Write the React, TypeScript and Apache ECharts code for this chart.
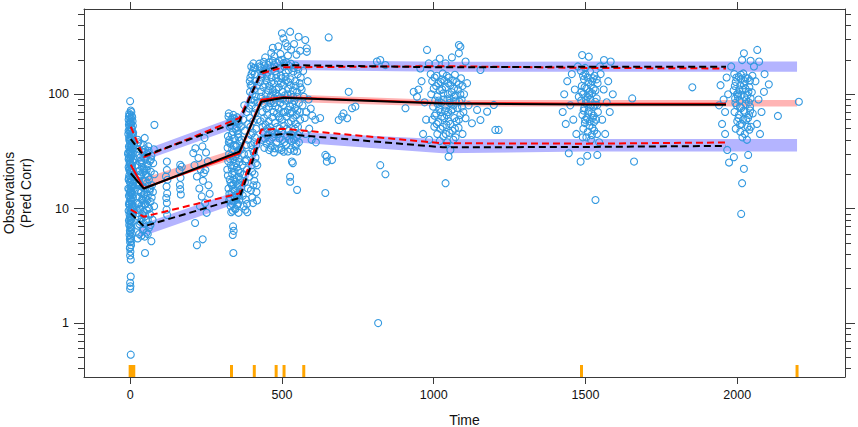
import React, { useEffect, useRef } from 'react';
import * as echarts from 'echarts';

// ---------- axes ----------
const X_MIN = -152;
const X_MAX = 2355;
const Y_MIN = 0.338;
const Y_MAX = 556;
const X_TICKS = [0, 500, 1000, 1500, 2000];
const Y_MAJOR = [1, 10, 100];
const Y_MINOR = [0.4, 0.5, 0.6, 0.7, 0.8, 0.9, 2, 3, 4, 5, 6, 7, 8, 9, 20, 30, 40, 50, 60, 70, 80, 90, 200, 300, 400, 500];

// ---------- percentile lines (bin mid-times) ----------
const LINE_T = [2, 45, 360, 432, 505, 1030, 1500, 1963];
const SIM_MEDIAN = [20.4, 15, 31.5, 86, 93, 83, 81.5, 81];
const OBS_MEDIAN = [24.2, 15.1, 30.5, 89.5, 94, 84, 82.5, 82.5];
const SIM_UPPER = [40.5, 28.9, 58, 157, 180, 172, 174, 174];
const OBS_UPPER = [52, 28.2, 62, 152, 172, 176, 170, 168];
const OBS_LOWER = [9.8, 8.5, 13.6, 49, 50, 37.3, 37, 37.9];
const SIM_LOWER = [9.1, 7.0, 12.4, 43, 45, 34.4, 34.6, 35.4];

// ---------- simulated prediction-interval bands ----------
const BAND_T = [30, 360, 432, 505, 1030, 1500, 1963, 2197];
const UPPER_LO = [25.5, 52, 140, 163, 157, 157, 157, 157.5];
const UPPER_HI = [31.5, 66, 172, 199, 192, 193, 193, 193];
const MED_LO = [15, 28, 80, 86, 78, 78, 78, 78];
const MED_HI = [18, 34, 95, 100, 89, 89, 89, 89];
const LOW_LO = [5.6, 11.3, 38, 38.6, 30.5, 31.6, 31.6, 31.6];
const LOW_HI = [7.2, 14.5, 48, 47.2, 40.5, 40.7, 40.7, 40.7];

// ---------- bin boundary rug ----------
const RUG_T = [0, 3, 6, 9, 12, 334, 409, 481, 507, 572, 1487, 2197];

// ---------- observations (time, pred-corrected value) ----------
const OBS_A = [
  [0, 87], [2, 72], [-3, 68], [5, 65], [1, 62], [-5, 60], [8, 58], [3, 55], [-2, 52], [6, 50], [0, 48], [10, 46], [-6, 45], [4, 43], [1, 41],
  [-1, 39], [7, 38], [12, 36], [-4, 35], [2, 34], [9, 33], [0, 31], [-7, 30], [5, 29], [3, 28], [11, 27], [-2, 26], [1, 25], [6, 24], [-5, 23],
  [8, 22], [0, 21], [13, 20], [-3, 19.5], [4, 19], [2, 18], [-1, 17], [10, 16.5], [7, 16], [-6, 15], [3, 14.5], [0, 14], [5, 13.5], [-4, 13],
  [9, 12.5], [1, 12], [-2, 11.5], [6, 11], [12, 10.5], [0, 10], [-5, 9.6], [3, 9.2], [8, 8.8], [-1, 8.4], [2, 8], [5, 7.6], [-3, 7.2], [0, 6.9],
  [4, 6.6], [1, 6.2], [-2, 5.9], [2, 5.5], [0, 5.1], [3, 4.8], [-1, 4.5], [1, 4.2], [0, 3.9], [2, 2.55], [0, 2.25], [1, 2.1], [0, 2.0], [2, 0.53],
  [4, 70], [-1, 66], [7, 63], [2, 57], [-4, 54], [1, 47], [9, 44], [-3, 42], [5, 40], [0, 37], [3, 32], [-6, 31], [8, 30.5], [1, 27.5], [-2, 24.5],
  [4, 22.5], [11, 21], [-4, 18.5], [6, 17.5], [2, 15.5], [-1, 13.8], [8, 13.2], [4, 11.8], [-3, 10.8], [1, 9.4], [6, 9.9], [3, 8.6], [0, 7.8],
  [-1, 6.4], [3, 5.7], [-4, 64], [9, 53], [-2, 49], [5, 36], [-5, 27], [10, 25.5], [-3, 22], [7, 20.5], [12, 15], [-4, 11], [5, 10.2], [9, 9.1],
  [1, 58], [-2, 56], [4, 51], [-5, 48], [7, 46], [2, 44.5], [-3, 40], [6, 37], [0, 35], [10, 34], [-1, 32], [4, 30], [2, 29.5], [-4, 28],
  [8, 26], [0, 25], [5, 23.5], [-2, 22], [3, 21], [9, 19], [-5, 18], [1, 17], [6, 15.5], [-3, 14.8], [4, 14], [0, 13], [2, 12.3], [-1, 11],
  [7, 10.5], [3, 9.6], [-2, 8.9], [5, 8.2], [1, 7.4], [-4, 7.9], [2, 6.8], [6, 6], [-1, 5.4], [4, 5.2], [0, 4.6], [2, 3.6]
];
const OBS_B = [
  [25, 40], [48, 41.5], [35, 37], [60, 35], [28, 33], [42, 31], [55, 30], [70, 29], [33, 28], [50, 27], [65, 26], [38, 25], [24, 24], [58, 23.5],
  [45, 22.5], [30, 21.5], [68, 21], [52, 20], [36, 19.5], [26, 18.5], [62, 18], [44, 17.5], [56, 16.8], [32, 16.2], [72, 16], [40, 15.5],
  [50, 15], [27, 14.5], [64, 14.2], [35, 13.8], [46, 13.3], [58, 13], [30, 12.6], [53, 12.2], [41, 11.8], [67, 11.5], [25, 11.2], [48, 10.9],
  [37, 10.6], [60, 10.3], [32, 10], [55, 9.7], [44, 9.4], [28, 9.1], [66, 8.9], [50, 8.6], [38, 8.3], [58, 8], [34, 7.7], [46, 7.4], [26, 7.1],
  [62, 6.8], [42, 6.5], [54, 6.2], [30, 6], [48, 5.7], [25, 5.5], [70, 5.2], [49, 4.1], [80, 54], [78, 33], [76, 25], [80, 20], [75, 14],
  [79, 10.5], [74, 8], [36, 26.5], [57, 24.5], [43, 20.8], [29, 17], [63, 14.8], [39, 12], [51, 11], [34, 9.8],
  [27, 38], [44, 36], [61, 32], [31, 30], [53, 28.5], [69, 27], [39, 23], [47, 21.5], [34, 20], [59, 19], [24, 16], [51, 17.5], [66, 15],
  [37, 14], [43, 12.8], [57, 11.9], [29, 11], [63, 10], [40, 9], [52, 7.9], [31, 7.3], [45, 6.6], [58, 6], [37, 5.8], [67, 7.2], [27, 8.5],
  [71, 12.5], [55, 22], [33, 25.5], [49, 33]
];
const OBS_C = [
  [121, 25.8], [121, 21.8], [118, 19.1], [123, 17.9], [120, 15.6], [122, 13.6], [119, 12.4], [121, 11.2], [120, 9.8], [122, 8.8],
  [165, 24.2], [163, 21.8], [166, 18.6], [164, 16.1], [165, 14.8], [167, 13.3], [170, 23.3],
  [208, 30.6], [215, 33.7], [225, 27.7], [212, 24], [232, 22], [220, 19.1], [240, 17.5], [228, 15], [236, 12.8], [247, 11.2], [230, 10.5],
  [252, 9.2], [245, 41.4], [238, 35], [250, 31], [256, 26], [243, 20.5], [258, 16], [262, 13.5], [248, 21.8], [214, 7.5], [220, 4.8], [239, 5.4]
];
const OBS_D = [
  [325, 68], [340, 66], [352, 63], [333, 60], [345, 57], [358, 55], [328, 52], [348, 50], [338, 47], [355, 45], [322, 43], [343, 41], [360, 39],
  [330, 37], [350, 35], [336, 33], [356, 31.5], [326, 30], [346, 28.5], [340, 27], [360, 25.5], [332, 24], [352, 23], [320, 22], [344, 21],
  [336, 20], [358, 19], [328, 18], [348, 17.2], [340, 16.4], [354, 15.6], [324, 15], [345, 14.3], [334, 13.7], [359, 13.1], [329, 12.5],
  [350, 12], [341, 11.5], [355, 11], [331, 10.5], [347, 10], [338, 9.6], [357, 9.2], [339, 7.0], [341, 6.4], [338, 5.9], [340, 4.1],
  [337, 62], [353, 48], [327, 40], [347, 36], [333, 29], [357, 27.5], [323, 26], [343, 23.5], [351, 18.5], [335, 16], [361, 14], [345, 12.6],
  [326, 11.8], [352, 10.8], [362, 20.5], [362, 33], [321, 34], [330, 57],
  [324, 64], [344, 61], [356, 58], [331, 54], [351, 52], [335, 44], [357, 42], [325, 38], [341, 35.5], [353, 30], [329, 27], [349, 25],
  [335, 22.5], [357, 21.5], [322, 19.5], [343, 18], [331, 16.8], [355, 16.5], [339, 14.8], [350, 13.3], [327, 13.5], [360, 12], [336, 11],
  [346, 9.9], [333, 9.3]
];
const OBS_E = [
  [365, 52], [372, 60], [378, 48], [368, 40], [382, 36], [375, 30], [370, 24], [385, 22], [362, 18], [378, 17], [388, 15], [371, 13],
  [381, 12], [374, 10.5], [380, 9.8], [386, 9.3], [405, 11.2], [392, 75], [398, 90], [395, 105], [402, 120], [396, 140], [404, 160],
  [399, 175], [406, 186], [410, 150], [412, 130], [408, 110], [414, 95], [401, 80], [411, 68], [405, 58], [415, 50], [398, 44], [409, 38],
  [403, 33], [413, 28], [400, 24], [410, 20], [406, 16], [416, 14], [402, 12.5], [418, 11.8], [412, 170], [418, 120], [420, 85], [395, 62],
  [390, 30], [393, 19], [384, 70], [376, 80], [389, 55], [367, 33], [383, 27],
  [394, 130], [400, 150], [407, 170], [403, 100], [397, 120], [410, 88], [413, 75], [396, 52], [404, 46], [411, 42], [399, 36], [407, 31],
  [414, 25], [402, 21], [409, 17.5], [417, 16], [398, 14.5], [419, 24], [416, 36], [420, 60], [388, 40], [379, 26], [373, 20], [366, 15], [385, 11]
];
const OBS_F = [
  [425, 185], [440, 192], [455, 180], [470, 196], [485, 188], [500, 200], [515, 190], [530, 185], [545, 178], [430, 170], [448, 165],
  [462, 172], [478, 160], [494, 168], [508, 175], [522, 162], [538, 158], [552, 150], [435, 150], [450, 145], [466, 140], [482, 148],
  [498, 138], [512, 142], [528, 135], [544, 130], [558, 125], [428, 128], [444, 122], [458, 118], [474, 125], [490, 115], [505, 120],
  [520, 112], [536, 108], [550, 105], [432, 105], [447, 100], [463, 96], [479, 102], [495, 92], [510, 98], [526, 90], [541, 88], [556, 84],
  [426, 86], [442, 82], [457, 78], [473, 84], [489, 75], [504, 80], [519, 73], [534, 70], [548, 66], [436, 70], [452, 66], [468, 63],
  [484, 68], [500, 60], [515, 64], [530, 58], [546, 55], [560, 60], [430, 58], [446, 54], [461, 52], [477, 56], [492, 50], [507, 53],
  [523, 48], [538, 46], [553, 44], [438, 47], [454, 44], [470, 42], [486, 45], [502, 40], [517, 43], [532, 39], [548, 37], [434, 40],
  [450, 37], [466, 35.5], [482, 38], [498, 34], [514, 36], [528, 33], [545, 35], [442, 34], [458, 32.5], [474, 31], [490, 33], [506, 31.5],
  [540, 32], [445, 210], [475, 215], [495, 225], [520, 218], [465, 230], [500, 341], [527, 352], [505, 308], [555, 318], [577, 298],
  [582, 252], [582, 235], [488, 262], [540, 275], [560, 240], [470, 255], [512, 280], [530, 245], [548, 222], [518, 262], [565, 110],
  [572, 95], [568, 80], [580, 70], [575, 62], [588, 90], [562, 140], [570, 160], [585, 130], [595, 75], [600, 65], [610, 60], [590, 50],
  [578, 45], [598, 40], [612, 38], [626, 62], [437, 160], [453, 155], [469, 110], [487, 130], [503, 105], [521, 128], [537, 95], [551, 72],
  [459, 88], [476, 92], [493, 62], [511, 70], [527, 78], [543, 50], [449, 75], [465, 48], [481, 110], [497, 145], [513, 155], [529, 100],
  [427, 175], [442, 178], [458, 190], [474, 182], [490, 195], [506, 188], [522, 178], [538, 170], [554, 165], [433, 140], [449, 132],
  [465, 128], [481, 138], [497, 125], [513, 132], [529, 120], [545, 118], [561, 115], [439, 115], [455, 108], [471, 104], [487, 96],
  [503, 92], [519, 100], [535, 82], [551, 95], [431, 95], [447, 90], [463, 84], [479, 78], [495, 84], [511, 88], [527, 68], [543, 76],
  [559, 70], [441, 62], [457, 58], [473, 70], [489, 64], [505, 70], [521, 56], [537, 62], [553, 52], [436, 52], [452, 50], [468, 47],
  [484, 52], [500, 48], [516, 50], [532, 44], [548, 42], [444, 41], [460, 39], [476, 45], [492, 41], [508, 38], [524, 40], [540, 40],
  [556, 38], [462, 34]
];
const OBS_S = [
  [533, 25.8], [536, 25], [527, 19], [527, 17.2], [550, 14.6], [477, 33.7], [499, 32.6], [520, 31.6], [550, 31.6], [643, 13.7], [648, 28.5],
  [648, 25.8], [665, 26.6], [643, 29.5], [654, 314], [720, 105], [687, 59.6], [698, 63.8], [715, 61.7], [703, 68], [731, 75.6], [742, 78],
  [813, 193], [824, 199], [841, 180], [824, 24], [841, 20], [817, 1.0]
];
const OBS_G = [
  [990, 150], [1010, 145], [1030, 152], [1050, 140], [1070, 148], [1090, 138], [995, 130], [1015, 125], [1035, 132], [1055, 120], [1075, 128],
  [1095, 118], [1000, 112], [1020, 108], [1040, 115], [1060, 104], [1080, 110], [992, 100], [1012, 96], [1032, 102], [1052, 92], [1072, 98],
  [1092, 90], [1005, 88], [1025, 84], [1045, 90], [1065, 80], [1085, 86], [998, 78], [1018, 74], [1038, 80], [1058, 72], [1078, 76],
  [1098, 70], [1008, 68], [1028, 64], [1048, 70], [1068, 62], [1088, 66], [995, 60], [1015, 57], [1035, 62], [1055, 55], [1075, 58],
  [1002, 52], [1022, 50], [1042, 54], [1062, 48], [1082, 51], [1012, 45], [1032, 43], [1052, 46], [1072, 42], [1020, 39], [1045, 38],
  [1065, 40], [1083, 269], [1088, 260], [1083, 228], [978, 244], [984, 186], [1006, 186], [1039, 186], [956, 168], [1105, 193],
  [1154, 163], [934, 105], [907, 75.5], [945, 95], [1105, 61.7], [1126, 55.8], [1154, 59.6], [1176, 70.5], [1203, 48.8], [1055, 32.6],
  [1049, 28.5], [1039, 16.7], [960, 130], [970, 85], [975, 60], [965, 45], [1100, 100], [1110, 125], [1115, 80], [950, 110], [1060, 210],
  [1020, 205], [985, 40], [1095, 45], [1198, 80.7], [1143, 73], [1214, 48.8], [1027, 135], [1047, 100], [1067, 112], [1017, 88], [1037, 72],
  [1003, 140], [1023, 128], [1043, 145], [1063, 132], [1083, 122], [1008, 118], [1028, 110], [1048, 125], [1068, 95], [1088, 100],
  [1013, 82], [1033, 90], [1053, 84], [1073, 88], [1093, 78], [1003, 65], [1023, 70], [1043, 66], [1063, 74], [1083, 60], [1010, 55],
  [1030, 52], [1050, 58], [1070, 50], [1040, 45]
];
const OBS_H = [
  [1485, 160], [1500, 150], [1515, 158], [1530, 145], [1495, 135], [1510, 128], [1525, 138], [1540, 125], [1488, 118], [1503, 112],
  [1518, 120], [1533, 108], [1492, 100], [1507, 95], [1522, 102], [1537, 92], [1486, 88], [1501, 84], [1516, 90], [1531, 80], [1496, 76],
  [1511, 72], [1526, 78], [1541, 70], [1490, 66], [1505, 62], [1520, 68], [1535, 60], [1498, 56], [1513, 53], [1528, 57], [1493, 50],
  [1508, 47], [1523, 51], [1538, 45], [1503, 42], [1518, 40], [1489, 220], [1511, 213], [1561, 199], [1583, 193], [1654, 92],
  [1660, 25.8], [1533, 11.9], [1484, 25.8], [1506, 29], [1445, 30.5], [1539, 29.5], [1430, 100], [1440, 130], [1450, 80], [1460, 60],
  [1455, 150], [1465, 110], [1470, 45], [1475, 175], [1425, 70], [1435, 55], [1550, 150], [1560, 110], [1570, 85], [1555, 60], [1565, 45],
  [1575, 130], [1580, 70], [1545, 38], [1590, 100], [1548, 175], [1852, 115], [1478, 95], [1514, 105], [1527, 65], [1499, 170],
  [1492, 145], [1507, 140], [1522, 130], [1537, 135], [1497, 115], [1512, 98], [1527, 112], [1487, 105], [1502, 90], [1517, 80],
  [1532, 86], [1494, 72], [1509, 68], [1524, 62], [1539, 80], [1499, 60], [1514, 58], [1529, 48], [1491, 42], [1521, 44]
];
const OBS_I = [
  [1990, 150], [2005, 142], [2020, 152], [2035, 138], [2050, 145], [1995, 128], [2010, 120], [2025, 130], [2040, 115], [1988, 108],
  [2003, 102], [2018, 110], [2033, 98], [2048, 104], [1993, 92], [2008, 88], [2023, 95], [2038, 85], [1998, 80], [2013, 76], [2028, 82],
  [2043, 72], [1991, 70], [2006, 66], [2021, 72], [2036, 62], [2051, 68], [2000, 58], [2015, 55], [2030, 60], [2045, 52], [1995, 50],
  [2010, 47], [2025, 45], [2040, 49], [2017, 42], [2032, 40], [2022, 228], [2066, 244], [2016, 199], [2044, 196], [2072, 193], [2104, 122],
  [2134, 64.6], [2203, 86], [2088, 105], [1973, 25.3], [1989, 28.2], [2036, 29.5], [2022, 22.3], [2016, 16.7], [2013, 9.0], [1967, 32.6],
  [1945, 120], [1955, 90], [1960, 70], [1950, 55], [1965, 140], [1970, 100], [1940, 80], [2060, 130], [2070, 90], [2080, 70], [2065, 55],
  [2090, 150], [2075, 45], [1980, 175], [2055, 175], [1960, 45], [2012, 135], [2027, 112], [2002, 95], [2042, 78],
  [1997, 140], [2012, 148], [2027, 140], [2042, 132], [1992, 118], [2007, 110], [2022, 120], [2037, 105], [1999, 100], [2014, 98],
  [2029, 90], [2044, 92], [1994, 84], [2009, 78], [2024, 70], [2039, 66], [2004, 62], [2019, 60], [2034, 52], [2009, 54]
];

const FONT = "'Liberation Sans', Arial, Helvetica, sans-serif";
const AX = '#3a3a3a';
const TXT = '#111111';
const PURPLE = '#B4B4FF';
const PINK = '#FFB4B4';
const BLUE = '#3399E0';

function bandSeries(lo: number[], hi: number[], color: string) {
  return {
    type: 'custom',
    xAxisIndex: 0,
    yAxisIndex: 0,
    z: 1,
    silent: true,
    clip: true,
    data: BAND_T.map((t, i) => [t, lo[i], hi[i]]),
    encode: { x: 0, y: [1, 2] },
    renderItem: (params: any, api: any) => {
      if (params.dataIndex !== 0) return null;
      const pts: number[][] = [];
      for (let i = 0; i < BAND_T.length; i++) pts.push(api.coord([BAND_T[i], hi[i]]));
      for (let i = BAND_T.length - 1; i >= 0; i--) pts.push(api.coord([BAND_T[i], lo[i]]));
      return { type: 'polygon', shape: { points: pts }, style: { fill: color, stroke: null } };
    },
  };
}

function lineSeries(vals: number[], color: string, dashed: boolean, z: number) {
  return {
    type: 'line',
    xAxisIndex: 0,
    yAxisIndex: 0,
    z,
    silent: true,
    symbol: 'none',
    data: LINE_T.map((t, i) => [t, vals[i]]),
    lineStyle: { color, width: 2, type: dashed ? [7, 4] : 'solid', cap: 'butt' },
  };
}

export default function App() {
  const ref = useRef<HTMLDivElement>(null);
  useEffect(() => {
    document.body.style.margin = '0';
    if (!ref.current) return;
    const chart = echarts.init(ref.current, undefined, { renderer: 'svg' });
    const points = [...OBS_A, ...OBS_B, ...OBS_C, ...OBS_D, ...OBS_E, ...OBS_F, ...OBS_S, ...OBS_G, ...OBS_H, ...OBS_I];
    const xCommon = {
      type: 'value',
      min: X_MIN,
      max: X_MAX,
      splitLine: { show: false },
      axisLine: { show: true, onZero: false, lineStyle: { color: AX, width: 1 } },
      axisTick: { show: true, length: 7, customValues: X_TICKS, lineStyle: { color: AX, width: 1 } },
    };
    const yCommon = {
      type: 'log',
      logBase: 10,
      min: Y_MIN,
      max: Y_MAX,
      splitLine: { show: false },
      minorTick: { show: false },
    };
    const option: any = {
      animation: false,
      textStyle: { fontFamily: FONT },
      grid: { left: 84, right: 13, top: 9, bottom: 50, containLabel: false, outerBoundsMode: 'none' },
      xAxis: [
        {
          ...xCommon,
          position: 'bottom',
          name: 'Time',
          nameLocation: 'middle',
          nameGap: 36,
          nameTextStyle: { fontSize: 14, color: TXT, fontFamily: FONT },
          axisLabel: { customValues: X_TICKS, margin: 11, fontSize: 12.5, color: TXT, fontFamily: FONT, formatter: (v: number) => String(v) },
        },
        { ...xCommon, position: 'top', axisLabel: { show: false } },
      ],
      yAxis: [
        {
          ...yCommon,
          position: 'left',
          name: 'Observations\n(Pred Corr)',
          nameLocation: 'middle',
          nameRotate: 90,
          nameGap: 50,
          nameTextStyle: { fontSize: 14, lineHeight: 17, color: TXT, fontFamily: FONT, align: 'center' },
          axisLine: { show: true, onZero: false, lineStyle: { color: AX, width: 1 } },
          axisTick: { show: true, length: 10, customValues: Y_MAJOR, lineStyle: { color: AX, width: 1 } },
          axisLabel: { customValues: Y_MAJOR, margin: 15, fontSize: 12.5, color: TXT, fontFamily: FONT, formatter: (v: number) => String(v) },
        },
        {
          ...yCommon,
          position: 'left',
          axisLine: { show: false, onZero: false },
          axisTick: { show: true, length: 6, customValues: Y_MINOR, lineStyle: { color: AX, width: 1 } },
          axisLabel: { show: false },
        },
        {
          ...yCommon,
          position: 'right',
          axisLine: { show: true, onZero: false, lineStyle: { color: AX, width: 1 } },
          axisTick: { show: true, length: 10, customValues: Y_MAJOR, lineStyle: { color: AX, width: 1 } },
          axisLabel: { show: false },
        },
        {
          ...yCommon,
          position: 'right',
          axisLine: { show: false, onZero: false },
          axisTick: { show: true, length: 6, customValues: Y_MINOR, lineStyle: { color: AX, width: 1 } },
          axisLabel: { show: false },
        },
      ],
      series: [
        bandSeries(UPPER_LO, UPPER_HI, PURPLE),
        bandSeries(MED_LO, MED_HI, PINK),
        bandSeries(LOW_LO, LOW_HI, PURPLE),
        {
          type: 'scatter',
          xAxisIndex: 0,
          yAxisIndex: 0,
          z: 3,
          silent: true,
          symbol: 'circle',
          symbolSize: 7,
          data: points,
          itemStyle: { color: 'rgba(0,0,0,0)', borderColor: BLUE, borderWidth: 1.1, opacity: 1 },
        },
        {
          type: 'custom',
          xAxisIndex: 0,
          yAxisIndex: 0,
          z: 4,
          silent: true,
          data: RUG_T.map((t) => [t, Y_MIN]),
          encode: { x: 0, y: 1 },
          renderItem: (params: any, api: any) => {
            const p = api.coord([api.value(0), Y_MIN]);
            return { type: 'rect', shape: { x: p[0] - 1.5, y: p[1] - 12, width: 3, height: 12 }, style: { fill: '#FFA500' } };
          },
        },
        lineSeries(OBS_MEDIAN, '#FF0000', false, 5),
        lineSeries(SIM_MEDIAN, '#000000', false, 6),
        lineSeries(OBS_UPPER, '#FF0000', true, 5),
        lineSeries(OBS_LOWER, '#FF0000', true, 5),
        lineSeries(SIM_UPPER, '#000000', true, 6),
        lineSeries(SIM_LOWER, '#000000', true, 6),
      ],
    };
    chart.setOption(option);
    return () => chart.dispose();
  }, []);
  return <div ref={ref} style={{ width: 858, height: 427 }} />;
}
